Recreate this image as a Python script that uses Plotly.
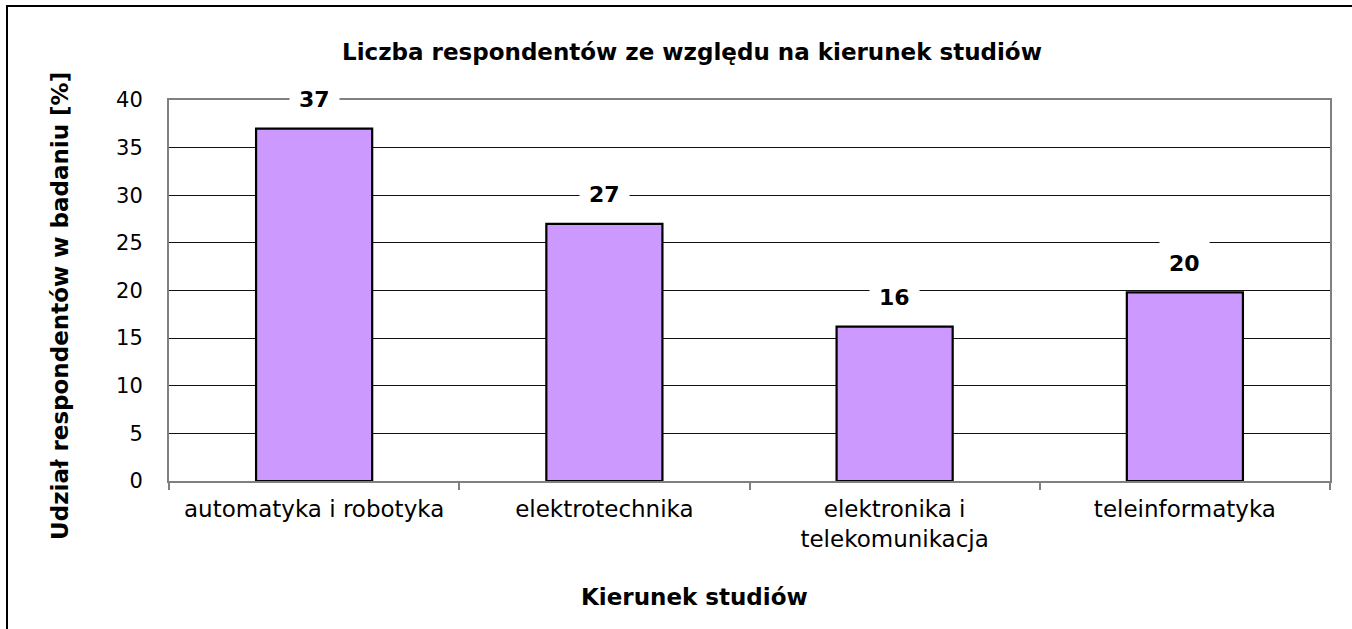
import plotly.graph_objects as go

categories = ["automatyka i robotyka", "elektrotechnika", "elektronika i<br>telekomunikacja", "teleinformatyka"]
values = [37, 27, 16.2, 19.8]
y_ticks = [0, 5, 10, 15, 20, 25, 30, 35, 40]

title_text = "Liczba respondentów ze względu na kierunek studiów"
x_title = "Kierunek studiów"
y_title = "Udział respondentów w badaniu [%]"

FONT = "DejaVu Sans"

# plot-area geometry in pixels (used only to convert positions to paper coords)
W, H = 1352, 629
L, R, T, B = 169, 1330, 100, 481
PW, PH = R - L, B - T


def px_x(p):
    return (p - L) / PW


def px_y(p):
    return (B - p) / PH


fig = go.Figure()
fig.add_trace(go.Bar(
    x=categories,
    y=values,
    marker=dict(color="#CC99FF", line=dict(color="#000000", width=2.2)),
    hoverinfo="x+y",
))

annotations = []
for c, v in zip(categories, values):
    annotations.append(dict(
        x=c, y=v, xref="x", yref="y", text=f"{v:.0f}", showarrow=False,
        yshift=29, yanchor="middle", bgcolor="#FFFFFF", borderpad=9,
        font=dict(family=FONT, size=22, color="#000000", weight="bold"),
    ))

annotations.append(dict(
    x=px_x(694), y=px_y(597), xref="paper", yref="paper", text=x_title,
    showarrow=False, xanchor="center", yanchor="middle",
    font=dict(family=FONT, size=23, color="#000000", weight="bold"),
))
annotations.append(dict(
    x=px_x(60), y=px_y(306), xref="paper", yref="paper", text=y_title,
    showarrow=False, xanchor="center", yanchor="middle", textangle=-90,
    font=dict(family=FONT, size=23, color="#000000", weight="bold"),
))

# outer chart-area frame: a blank bordered box whose right/bottom edges lie outside the picture
annotations.append(dict(
    x=px_x(6), y=px_y(5), xref="paper", yref="paper", text=" ",
    showarrow=False, xanchor="left", yanchor="top",
    width=1500, height=800, borderpad=0,
    bordercolor="#000000", borderwidth=2, bgcolor="rgba(0,0,0,0)",
))

fig.update_layout(
    width=W, height=H,
    margin=dict(l=L, r=W - R, t=T, b=H - B, pad=0),
    paper_bgcolor="#FFFFFF", plot_bgcolor="#FFFFFF",
    bargap=0.6,
    showlegend=False,
    title=dict(
        text=title_text, x=692 / W, xref="container", xanchor="center",
        y=1 - 52 / H, yref="container", yanchor="middle",
        font=dict(family=FONT, size=23, color="#000000", weight="bold"),
    ),
    annotations=annotations,
    xaxis=dict(
        type="category",
        showline=True, linecolor="#808080", linewidth=2, mirror=True,
        ticks="outside", tickson="boundaries", ticklen=7, tickcolor="#808080", tickwidth=1.5,
        showgrid=False, zeroline=False,
        tickfont=dict(family=FONT, size=23, color="#000000"),
        ticklabelstandoff=6,
    ),
    yaxis=dict(
        range=[0, 40], tickvals=y_ticks, ticktext=[str(t) for t in y_ticks],
        showline=True, linecolor="#808080", linewidth=2, mirror=True,
        showgrid=True, gridcolor="#111111", gridwidth=1,
        zeroline=False, ticks="",
        tickfont=dict(family=FONT, size=21, color="#000000"),
        ticklabelstandoff=20,
    ),
)

fig.write_html(
    "out.html",
    config={"displayModeBar": False},
    post_script="document.body.style.margin='0';document.body.style.overflow='hidden';",
)
